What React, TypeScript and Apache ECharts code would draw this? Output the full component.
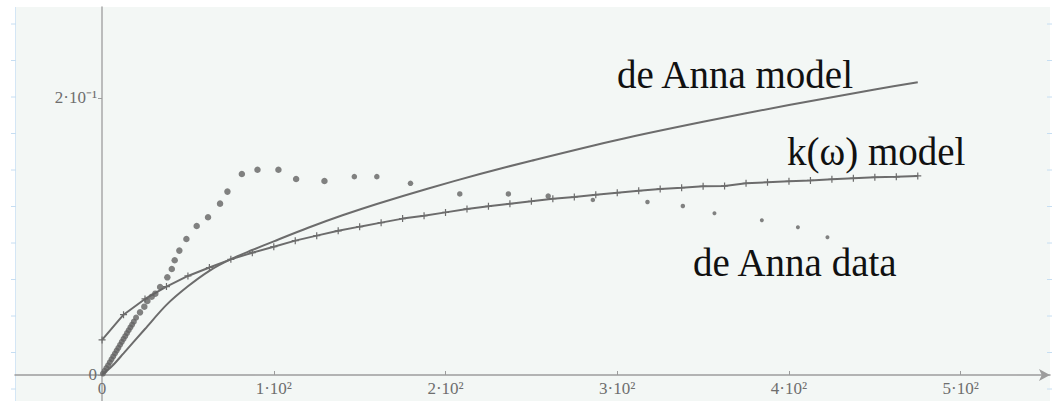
import React, { useEffect, useRef } from "react";
import * as echarts from "echarts";

// de Anna model (smooth curve)
const modelX = [0, 6, 12.5, 25, 37.5, 50, 62.5, 75, 87.5, 100, 120, 140, 160, 190, 220, 250, 300, 350, 400, 450, 475];
const modelY = [0, 0.0066, 0.0156, 0.0332, 0.0506, 0.064, 0.0752, 0.0836, 0.0902, 0.0965, 0.1063, 0.1153, 0.1235, 0.1347, 0.1451, 0.1547, 0.1697, 0.1828, 0.1949, 0.2061, 0.2114];

// k(omega) model (polyline with + markers)
const kX = [0, 12.5, 25, 37.5, 50, 62.5, 75, 87.5, 100, 112.5, 125, 137.5, 150, 162.5, 175, 187.5, 200, 212.5, 225, 237.5, 250, 262.5, 275, 287.5, 300, 312.5, 325, 337.5, 350, 362.5, 375, 387.5, 400, 412.5, 425, 437.5, 450, 462.5, 475];
const kY = [0.0253, 0.0435, 0.0549, 0.0638, 0.0715, 0.0776, 0.0835, 0.0883, 0.0926, 0.097, 0.1006, 0.1041, 0.1071, 0.11, 0.1129, 0.115, 0.1174, 0.1199, 0.1218, 0.1237, 0.1254, 0.1273, 0.1285, 0.1302, 0.1316, 0.133, 0.1343, 0.1352, 0.1362, 0.1365, 0.1384, 0.1391, 0.1398, 0.1405, 0.1413, 0.142, 0.1427, 0.1431, 0.1437];

// de Anna data (points)
const dataX = [0.5, 1.5, 2.5, 3.5, 4.5, 5.5, 6.5, 7.5, 8.5, 9.5, 10.5, 11.5, 12.5, 13.5, 14.5, 15.5, 16.5, 17.5, 18.5, 19.8, 22.1, 24.6, 26.4, 28.9, 31, 33.8, 38, 40.6, 42.3, 45, 49.1, 55.1, 61.7, 68.7, 73, 81.4, 90.5, 102.7, 113, 129.5, 146.9, 160, 179.6, 208.3, 236.6, 259.8, 285.8, 317.6, 338.2, 356.6, 384.2, 405.2, 422.4];
const dataY = [0.001, 0.003, 0.005, 0.007, 0.0092, 0.0113, 0.0134, 0.0155, 0.0176, 0.0196, 0.0218, 0.0239, 0.026, 0.028, 0.0302, 0.0323, 0.0343, 0.0363, 0.0385, 0.0414, 0.0452, 0.0493, 0.0534, 0.0565, 0.0587, 0.0635, 0.0705, 0.0765, 0.0828, 0.0898, 0.0982, 0.1076, 0.1139, 0.1237, 0.1324, 0.1451, 0.1482, 0.1482, 0.1415, 0.1401, 0.1432, 0.1432, 0.1384, 0.1307, 0.1307, 0.1292, 0.1264, 0.1249, 0.122, 0.1167, 0.1117, 0.1066, 0.0994];

const xTicks = [0, 100, 200, 300, 400, 500];
const yTicks = [0, 0.2];

const labels = [
  { text: "de Anna model", x: 853, y: 74, align: "right" },
  { text: "k(\u03c9) model", x: 787, y: 151, align: "left" },
  { text: "de Anna data", x: 693, y: 262, align: "left" },
];

const W = 1057;
const H = 401;

export default function App() {
  const ref = useRef<HTMLDivElement>(null);
  useEffect(() => {
    if (!ref.current) return;
    const chart = echarts.init(ref.current, null, { renderer: "svg" });
    const zip = (xs: number[], ys: number[]) => xs.map((x, i) => [x, ys[i]]);
    const lineColor = "#6c6c6c";
    const axisColor = "#9c9c9c";
    const labelColor = "#6e6e6e";

    const rulerTicks: any[] = [];
    for (let k = 0; k < 11; k++) {
      const y = 24 + 36.5 * k;
      rulerTicks.push({ type: "line", shape: { x1: 11, y1: y, x2: 16, y2: y }, style: { stroke: "#c6def2", lineWidth: 1 } });
      rulerTicks.push({ type: "line", shape: { x1: 1047, y1: y, x2: 1052, y2: y }, style: { stroke: "#c6def2", lineWidth: 1 } });
    }

    chart.setOption({
      animation: false,
      backgroundColor: "#ffffff",
      grid: {
        left: 15,
        right: 7,
        top: 7,
        bottom: 0,
        outerBoundsMode: "none",
        containLabel: false,
        show: true,
        backgroundColor: "#f3f7f5",
        borderWidth: 0,
      },
      xAxis: {
        type: "value",
        min: -50.7,
        max: 552,
        position: "bottom",
        offset: -26,
        splitLine: { show: false },
        axisLine: {
          show: true,
          onZero: false,
          symbol: ["none", "arrow"],
          symbolSize: [9, 11],
          lineStyle: { color: axisColor, width: 1.5 },
        },
        axisTick: { show: true, inside: true, length: 4, customValues: xTicks, lineStyle: { color: axisColor } },
        axisLabel: {
          customValues: xTicks,
          margin: 5,
          color: labelColor,
          fontFamily: "Liberation Serif",
          fontSize: 17,
          formatter: (v: number) => (v === 0 ? "0" : `${Math.round(v / 100)}\u00b710\u00b2`),
        },
      },
      yAxis: {
        type: "value",
        min: -0.0188,
        max: 0.2657,
        position: "left",
        offset: -87,
        splitLine: { show: false },
        axisLine: { show: true, onZero: false, lineStyle: { color: "#a8a8a8", width: 1.5 } },
        axisTick: { show: true, length: 4, customValues: yTicks, lineStyle: { color: axisColor } },
        axisLabel: {
          customValues: yTicks,
          margin: 5,
          color: labelColor,
          fontFamily: "Liberation Serif",
          fontSize: 17,
          formatter: (v: number) => (v === 0 ? "0" : "2\u00b710\u207b\u00b9"),
        },
      },
      series: [
        {
          name: "de Anna model",
          type: "line",
          smooth: 0.3,
          showSymbol: false,
          symbol: "none",
          data: zip(modelX, modelY),
          lineStyle: { color: lineColor, width: 2 },
          z: 3,
        },
        {
          name: "k(\u03c9) model",
          type: "line",
          data: zip(kX, kY),
          symbol: "path://M5,0L5,10M0,5L10,5",
          symbolSize: 7,
          showAllSymbol: true,
          itemStyle: { color: "rgba(0,0,0,0)", borderColor: lineColor, borderWidth: 1.2 },
          lineStyle: { color: lineColor, width: 2 },
          z: 3,
        },
        {
          name: "de Anna data",
          type: "scatter",
          data: zip(dataX, dataY),
          symbol: "circle",
          symbolSize: (val: number[]) => (val[0] < 21 ? 6 : val[0] < 130 ? 6.5 : val[0] < 270 ? 5.5 : val[0] < 340 ? 4.5 : 4),
          itemStyle: { color: "#636363" },
          z: 4,
        },
      ],
      graphic: [
        { type: "line", shape: { x1: 15.5, y1: 7, x2: 15.5, y2: 401 }, style: { stroke: "#d4e6f5", lineWidth: 1 } },
        ...rulerTicks,
        ...labels.map((l) => ({
          type: "text",
          x: l.x,
          y: l.y,
          style: {
            text: l.text,
            fill: "#111111",
            font: "39px 'Liberation Serif'",
            align: l.align,
            verticalAlign: "middle",
          },
          z: 10,
        })),
      ],
    });
    return () => chart.dispose();
  }, []);
  return <div ref={ref} style={{ position: "fixed", left: 0, top: 0, width: W, height: H }} />;
}
